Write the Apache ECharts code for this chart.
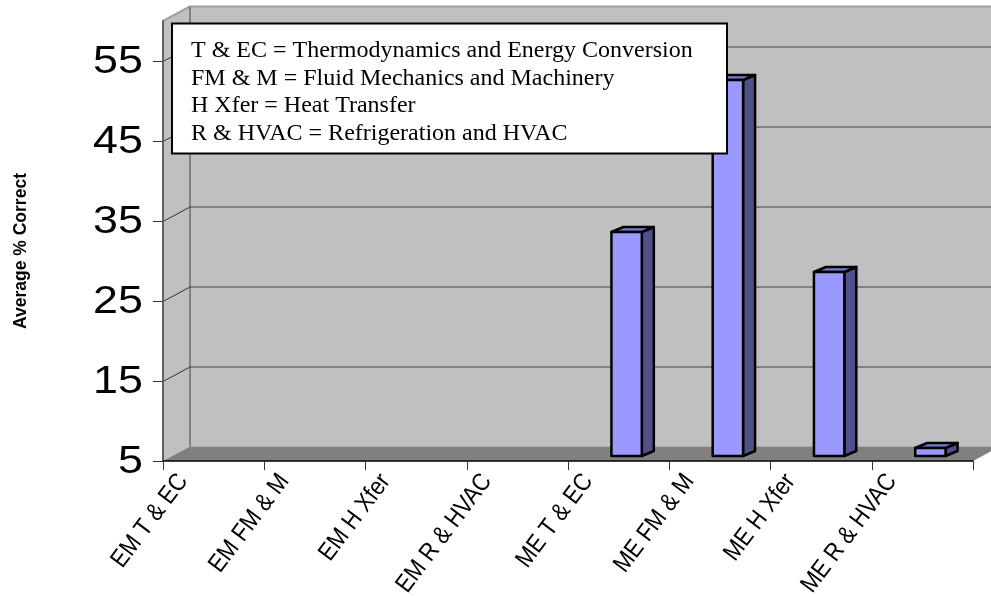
<!DOCTYPE html>
<html><head><meta charset="utf-8">
<style>html,body{margin:0;padding:0;background:#fff}#c{width:991px;height:597px}</style>
<script src="https://cdn.jsdelivr.net/npm/echarts@6/dist/echarts.min.js"></script>
</head><body><div id="c"></div>
<script>
const categories = ['EM T & EC','EM FM & M','EM H Xfer','EM R & HVAC','ME T & EC','ME FM & M','ME H Xfer','ME R & HVAC'];
const values = [null,null,null,null,33,52,28,6];
const yTicks = [5,15,25,35,45,55];
const noteLines = ['T & EC = Thermodynamics and Energy Conversion','FM & M = Fluid Mechanics and Machinery','H Xfer = Heat Transfer','R & HVAC = Refrigeration and HVAC'];

const DX = 27, DY = -14.5;
const chart = echarts.init(document.getElementById('c'), null, {renderer:'canvas'});
const poly = (pts, fill, stroke, lw) => ({type:'polygon', shape:{points:pts}, style:{fill, stroke:stroke||null, lineWidth:lw||0, lineJoin:'round'}});
const line = (a, b, stroke, lw) => ({type:'line', shape:{x1:a[0],y1:a[1],x2:b[0],y2:b[1]}, style:{stroke, lineWidth:lw}});

function renderWalls(params, api){
  const g = params.coordSys, L=g.x, R=g.x+g.width, T=g.y, B=g.y+g.height;
  const kids = [
    poly([[L+DX,T+DY],[R+DX,T+DY],[R+DX,B+DY],[L+DX,B+DY]], '#c0c0c0'),
    poly([[L,B],[L+DX,B+DY],[L+DX,T+DY],[L,T]], '#c0c0c0'),
    poly([[L,B],[R,B],[R+DX,B+DY],[L+DX,B+DY]], '#808080'),
    line([L,T],[L+DX,T+DY],'#a0a0a0',2),
    line([L+DX,T+DY],[R+DX,T+DY],'#a0a0a0',2),
    line([L+DX,T+DY],[L+DX,B+DY],'#808080',2)
  ];
  yTicks.slice(1).forEach(t => {
    const y = Math.round(api.coord([0,t])[1])+0.5;
    kids.push(line([L,y],[L+DX,y+DY],'#333',1));
    kids.push(line([L+DX,y+DY],[R+DX,y+DY],'#444',1));
  });
  return {type:'group', children:kids};
}
function renderBar(params, api){
  const v = api.value(1);
  if (v == null || isNaN(v)) return null;
  const i = api.value(0);
  const base = api.coord([i,5]), top = api.coord([i,v]);
  const w = api.size([1,0])[0]*0.3;
  const x0 = base[0]+8-w/2, x1 = x0+w, yb = base[1]-5, yt = top[1]-5, dx=12, dy=-5;
  return {type:'group', children:[
    poly([[x1,yb],[x1+dx,yb+dy],[x1+dx,yt+dy],[x1,yt]], '#50508a','#000',2.5),
    poly([[x0,yt],[x1,yt],[x1+dx,yt+dy],[x0+dx,yt+dy]], '#7a7acc','#000',2.5),
    poly([[x0,yb],[x1,yb],[x1,yt],[x0,yt]], '#9999ff','#000',2.5)
  ]};
}
function renderYLabel(params, api){
  const t = api.value(1), p = api.coord([0,t]);
  return {type:'text', x:params.coordSys.x-20, y:p[1]+2, scaleX:1.18, scaleY:1,
    style:{text:String(t), textAlign:'right', textVerticalAlign:'middle', font:'38px "Liberation Sans"', fill:'#000'}};
}
function renderXLabel(params, api){
  const i = api.value(0), p = api.coord([i,5]);
  const w = api.size([1,0])[0];
  return {type:'text', x:p[0]-w/2+20, y:p[1]+16, rotation:53*Math.PI/180, scaleX:0.88, scaleY:1,
    style:{text:categories[i], textAlign:'right', textVerticalAlign:'middle', font:'25px "Liberation Sans"', fill:'#000'}};
}

const noteEls = [{type:'rect', z:100, shape:{x:172,y:23.5,width:555,height:130}, style:{fill:'#fff',stroke:'#000',lineWidth:2}}];
noteLines.forEach((s,k)=>noteEls.push({type:'text', z:101, x:191, y:50.5+k*27.8,
  style:{text:s, font:'24px "Liberation Serif"', fill:'#000', textAlign:'left', textVerticalAlign:'middle'}}));

chart.setOption({
  animation:false,
  backgroundColor:'#fff',
  grid:{left:163, right:18, top:21, bottom:136, containLabel:false, outerBoundsMode:'none'},
  xAxis:{type:'category', data:categories, z:6,
    axisLine:{lineStyle:{color:'#000',width:1.5}},
    axisTick:{show:true, length:9, interval:0, alignWithLabel:false, lineStyle:{color:'#333',width:1}},
    axisLabel:{show:false}, splitLine:{show:false}},
  yAxis:{type:'value', min:5, max:60, z:6,
    name:'Average % Correct', nameLocation:'middle', nameGap:133, nameRotate:90,
    nameTextStyle:{fontFamily:'Liberation Sans', fontSize:17.5, fontWeight:'bold', color:'#000', padding:[0,20,0,0]},
    axisLine:{show:true, lineStyle:{color:'#606060',width:2}},
    axisTick:{show:true, length:10, customValues:yTicks, lineStyle:{color:'#333',width:1}},
    axisLabel:{show:false}, splitLine:{show:false}},
  series:[
    {type:'custom', name:'walls', z:1, silent:true, clip:false, data:[[0,5]], renderItem:renderWalls},
    {type:'custom', name:'Average % Correct', z:3, clip:false, data:values.map((v,i)=>[i,v]), encode:{x:0,y:1}, renderItem:renderBar},
    {type:'custom', name:'yLabels', z:4, silent:true, clip:false, data:yTicks.map(t=>[0,t]), renderItem:renderYLabel},
    {type:'custom', name:'xLabels', z:4, silent:true, clip:false, data:categories.map((c,i)=>[i,5]), renderItem:renderXLabel}
  ],
  graphic:{elements:noteEls}
});
</script></body></html>
